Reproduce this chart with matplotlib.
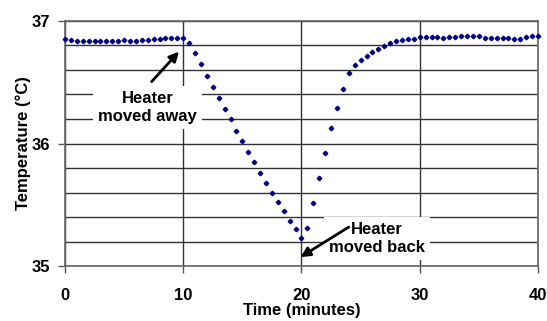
import matplotlib
matplotlib.use("Agg")
import matplotlib.pyplot as plt
from matplotlib.ticker import MultipleLocator

plt.rcParams['font.family'] = ['Liberation Sans', 'DejaVu Sans']
plt.rcParams['font.weight'] = 'bold'

time_min = [0, 0.5, 1, 1.5, 2, 2.5, 3, 3.5, 4, 4.5, 5, 5.5, 6, 6.5, 7, 7.5, 8, 8.5, 9, 9.5,
            10, 10.5, 11, 11.5, 12, 12.5, 13, 13.5, 14, 14.5, 15, 15.5, 16, 16.5, 17, 17.5,
            18, 18.5, 19, 19.5, 20, 20.5, 21, 21.5, 22, 22.5, 23, 23.5, 24, 24.5, 25, 25.5,
            26, 26.5, 27, 27.5, 28, 28.5, 29, 29.5, 30, 30.5, 31, 31.5, 32, 32.5, 33, 33.5,
            34, 34.5, 35, 35.5, 36, 36.5, 37, 37.5, 38, 38.5, 39, 39.5, 40]
temperature = [36.85, 36.845, 36.84, 36.835, 36.835, 36.835, 36.835, 36.835, 36.835, 36.84,
               36.845, 36.84, 36.84, 36.845, 36.845, 36.85, 36.855, 36.86, 36.865, 36.865,
               36.865, 36.823, 36.737, 36.647, 36.554, 36.464, 36.374, 36.280, 36.198, 36.105,
               36.021, 35.929, 35.847, 35.757, 35.678, 35.60, 35.52, 35.45, 35.369, 35.30,
               35.232, 35.312, 35.513, 35.722, 35.926, 36.127, 36.293, 36.443, 36.573, 36.644,
               36.682, 36.712, 36.745, 36.772, 36.796, 36.821, 36.834, 36.843, 36.851, 36.851,
               36.867, 36.872, 36.872, 36.869, 36.858, 36.869, 36.872, 36.88, 36.88, 36.88,
               36.875, 36.861, 36.861, 36.861, 36.861, 36.858, 36.853, 36.853, 36.867, 36.875,
               36.88]

x_ticks = [0, 10, 20, 30, 40]
y_ticks = [35, 36, 37]

fig = plt.figure(figsize=(5.47, 3.21), dpi=100)
ax = fig.add_axes([0.1188, 0.1713, 0.8647, 0.7633])

ax.plot(time_min, temperature, linestyle='none', marker='D', markersize=2.3,
        color='#000080', zorder=3, clip_on=False)

ax.set_xlim(0, 40)
ax.set_ylim(35, 37)
ax.set_xticks(x_ticks)
ax.set_yticks(y_ticks)
ax.yaxis.set_minor_locator(MultipleLocator(0.2))
ax.tick_params(axis='both', which='major', direction='out', length=5, width=1,
               color='#555555', labelsize=12)
ax.tick_params(axis='x', pad=11)
ax.tick_params(axis='y', pad=6)
ax.tick_params(axis='y', which='minor', length=0)
ax.grid(True, which='both', axis='y', color='#333333', linewidth=1.0, zorder=0)
ax.grid(True, which='major', axis='x', color='#333333', linewidth=1.0, zorder=0)
ax.set_axisbelow(True)
for s in ax.spines.values():
    s.set_color('#666666')
    s.set_linewidth(1.2)

ax.set_xlabel('Time (minutes)', fontsize=12, fontweight='bold', labelpad=0.0)
ax.set_ylabel('Temperature (\u00b0C)', fontsize=12, fontweight='bold', labelpad=0.5)

box = dict(boxstyle='square,pad=0.3', facecolor='white', edgecolor='none')
ax.text(7.0, 36.29, 'Heater\nmoved away', ha='center', va='center', fontsize=12,
        fontweight='bold', linespacing=1.25, bbox=box, zorder=2)
ax.text(26.4, 35.226, 'Heater\nmoved back', ha='center', va='center', fontsize=12,
        fontweight='bold', linespacing=1.25, bbox=box, zorder=2)

arrow = dict(arrowstyle='-|>', lw=2, color='black', mutation_scale=14, shrinkA=0, shrinkB=0)
ax.annotate('', xy=(9.64, 36.75), xytext=(7.33, 36.505), arrowprops=arrow, zorder=4)
ax.annotate('', xy=(19.92, 35.073), xytext=(24.0, 35.318), arrowprops=arrow, zorder=4)

fig.savefig('out.png', dpi=100)
